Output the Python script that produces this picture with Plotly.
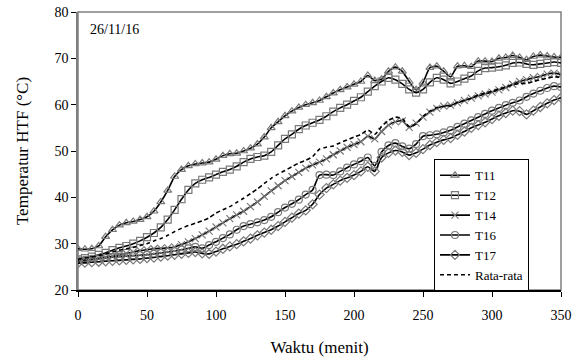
import plotly.graph_objects as go

# Sampling times (minutes), every 5 minutes
waktu = list(range(0, 355, 5))

T11 = [28.9, 28.8, 28.9, 29.5, 31.5, 33.0, 34.0, 34.5, 34.8, 35.2,
       35.8, 37.0, 39.0, 41.5, 44.5, 46.0, 46.8, 47.2, 47.4, 47.6,
       48.2, 49.0, 49.4, 49.5, 50.0, 50.6, 51.5, 53.0, 55.0, 56.3,
       57.6, 58.6, 59.4, 60.0, 60.4, 60.9, 61.7, 62.5, 63.2, 63.8,
       64.4, 65.0, 66.3, 65.2, 65.5, 67.2, 68.1, 67.2, 65.0, 63.2,
       64.8, 68.0, 68.3, 67.2, 66.0, 68.3, 68.4, 68.2, 69.4, 69.4,
       69.3, 70.0, 70.2, 70.6, 70.2, 69.7, 70.4, 70.7, 70.5, 70.3, 70.2]

T12 = [26.6, 26.9, 27.2, 27.6, 28.0, 28.6, 29.1, 29.5, 30.0, 30.6,
       31.4, 32.3, 33.5, 35.2, 37.3, 39.6, 41.6, 43.0, 43.8, 44.3,
       44.9, 45.5, 46.0, 46.7, 47.6, 48.3, 48.7, 49.0, 49.8, 51.2,
       52.6, 53.6, 54.7, 55.5, 56.1, 56.7, 57.5, 58.5, 59.3, 60.0,
       60.8, 61.6, 62.8, 64.0, 65.0, 65.8, 65.4, 64.5, 63.3, 62.6,
       63.3, 64.8, 65.8, 65.4, 64.6, 65.0, 65.6, 66.2, 67.3, 67.9,
       68.0, 68.2, 68.5, 69.0, 69.1, 68.8, 68.6, 68.8, 69.0, 69.2, 69.0]

T14 = [26.2, 26.4, 26.6, 26.8, 27.0, 27.3, 27.6, 27.9, 28.2, 28.5,
       28.7, 28.9, 29.0, 29.1, 29.3, 29.8, 30.4, 31.1, 31.9, 32.7,
       33.6, 34.5, 35.4, 36.2, 37.0, 38.0, 39.0, 40.2, 41.4, 42.5,
       43.6, 44.5, 45.4, 46.3, 47.0, 47.6, 48.3, 49.2, 50.0, 50.8,
       51.4, 52.0, 53.2, 52.6, 54.2, 55.6, 56.3, 56.5, 55.1, 56.0,
       57.3, 58.4, 59.2, 59.7, 59.9, 60.4, 60.9, 61.4, 61.9, 62.3,
       62.7, 63.2, 63.7, 64.4, 65.0, 65.4, 65.8, 66.1, 66.6, 66.8, 66.5]

T16 = [26.4, 26.5, 26.7, 26.8, 27.0, 27.1, 27.2, 27.3, 27.4, 27.5,
       27.6, 27.8, 28.0, 28.2, 28.4, 28.7, 29.0, 29.3, 29.0, 29.7,
       30.4, 31.2, 32.0, 33.0, 33.8, 34.2, 34.6, 35.1, 35.8, 36.8,
       37.8, 38.6, 39.5, 40.6, 41.6, 44.8, 44.9, 44.8, 45.6, 46.4,
       47.1, 47.8, 48.6, 46.8, 49.8, 51.2, 51.7, 51.0, 50.5, 51.5,
       53.2, 53.4, 53.6, 54.0, 54.5, 55.2, 55.9, 56.6, 57.3, 58.0,
       58.7, 59.3, 59.9, 60.4, 60.9, 61.7, 62.4, 63.0, 63.6, 64.0, 63.8]

T17 = [25.8, 25.9, 26.0, 26.1, 26.2, 26.3, 26.4, 26.5, 26.6, 26.7,
       26.9, 27.0, 27.2, 27.4, 27.6, 27.8, 28.0, 28.2, 27.9, 27.8,
       28.3, 28.9, 29.4, 29.9, 30.5, 31.1, 31.8, 32.4, 33.0, 33.8,
       34.7, 35.6, 36.5, 37.2, 38.5, 40.6, 42.0, 42.8, 43.6, 44.2,
       44.8, 45.6, 46.6, 45.6, 48.6, 49.6, 50.1, 49.8, 49.1, 49.6,
       50.4, 51.3, 51.9, 52.4, 52.8, 53.5, 54.2, 55.0, 55.6, 56.2,
       56.9, 57.6, 58.2, 58.7, 58.6, 57.9, 58.7, 59.5, 60.3, 61.0, 61.5]

rata_rata = [26.6, 26.9, 27.1, 27.4, 27.8, 28.2, 28.6, 28.9, 29.2, 29.6,
             30.0, 30.6, 31.1, 31.8, 32.6, 33.3, 33.9, 34.4, 34.9, 35.6,
             36.6, 37.3, 38.0, 38.9, 39.8, 40.8, 41.8, 43.0, 44.1, 45.0,
             45.8, 46.6, 47.4, 48.0, 48.8, 50.4, 50.8, 51.1, 51.8, 52.4,
             53.0, 53.6, 54.5, 53.6, 55.3, 56.6, 57.3, 57.0, 55.3, 55.8,
             57.5, 58.6, 59.4, 59.6, 59.7, 60.5, 60.9, 61.4, 62.1, 62.5,
             62.9, 63.4, 63.8, 64.3, 64.6, 64.6, 65.0, 65.4, 65.7, 66.0, 65.9]

series = [
    ("T11", T11, "triangle-up-open"),
    ("T12", T12, "square-open"),
    ("T14", T14, "x-thin-open"),
    ("T16", T16, "circle-open"),
    ("T17", T17, "diamond-open"),
]

FONT = "Times New Roman, Liberation Serif, serif"
MARKER_GREY = "#7a7a7a"

fig = go.Figure()
for name, vals, sym in series:
    fig.add_trace(go.Scatter(
        x=waktu, y=vals, name=name, mode="lines+markers",
        line=dict(color="black", width=1.6, shape="spline", smoothing=0.6),
        marker=dict(symbol=sym, size=7, color=MARKER_GREY,
                    line=dict(color=MARKER_GREY, width=1.2)),
    ))

fig.add_trace(go.Scatter(
    x=waktu, y=rata_rata, name="Rata-rata", mode="lines",
    line=dict(color="black", width=1.6, dash="4px,3px", shape="spline", smoothing=0.6),
))

# grey frame around the plotting area
fig.add_shape(type="rect", xref="paper", yref="paper", x0=0, y0=0, x1=1, y1=1,
              line=dict(color="#808080", width=1.5), layer="below")

fig.add_annotation(text="26/11/16", xref="paper", yref="paper", x=0.02, y=0.97,
                   xanchor="left", yanchor="top", showarrow=False,
                   font=dict(family=FONT, size=14, color="black"))

fig.update_layout(
    width=588, height=357,
    margin=dict(l=78, r=27, t=12, b=67),
    paper_bgcolor="white", plot_bgcolor="white",
    font=dict(family=FONT, size=14, color="black"),
    showlegend=True,
    legend=dict(x=0.737, y=0.47, xanchor="left", yanchor="top",
                bgcolor="white", bordercolor="black", borderwidth=1,
                font=dict(family=FONT, size=13, color="black"),
                itemwidth=30, tracegroupgap=0),
)

fig.update_xaxes(
    range=[0, 350], dtick=50, tick0=0,
    showgrid=False, zeroline=False, automargin=False,
    showline=True, linecolor="black", linewidth=1.5,
    ticks="outside", ticklen=5, tickcolor="black",
    ticklabelstandoff=6,
    tickfont=dict(family=FONT, size=14),
    title=dict(text="Waktu (menit)", font=dict(family=FONT, size=17), standoff=20),
)
fig.update_yaxes(
    range=[20, 80], dtick=10, tick0=20,
    showgrid=False, zeroline=False, automargin=False,
    showline=True, linecolor="#808080", linewidth=1.5,
    ticks="outside", ticklen=5, tickcolor="black",
    tickfont=dict(family=FONT, size=14),
    title=dict(text="Temperatur HTF (°C)", font=dict(family=FONT, size=17), standoff=22),
)

fig.write_html("out.html")
